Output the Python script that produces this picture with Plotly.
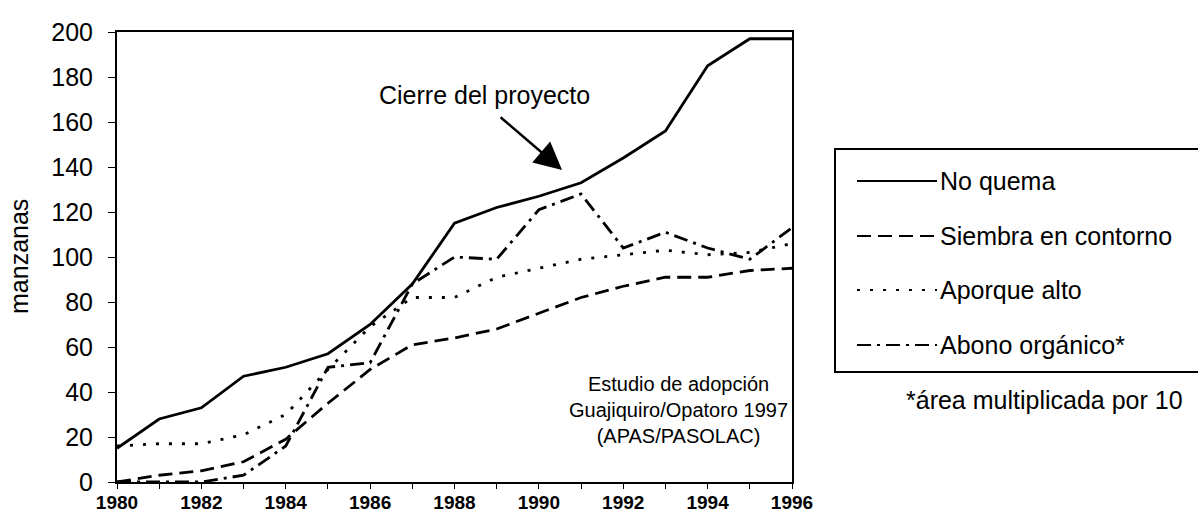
import plotly.graph_objects as go

# Adoption of soil-conservation practices, Guajiquiro/Opatoro (manzanas)
years = list(range(1980, 1997))
no_quema = [15, 28, 33, 47, 51, 57, 70, 88, 115, 122, 127, 133, 144, 156, 185, 197, 197]
siembra_contorno = [0, 3, 5, 9, 19, 35, 50, 61, 64, 68, 75, 82, 87, 91, 91, 94, 95]
aporque_alto = [16, 17, 17, 21, 30, 50, 69, 82, 82, 91, 95, 99, 101, 103, 101, 102, 106]
abono_organico = [0, 0, 0, 3, 16, 51, 53, 88, 100, 99, 121, 128, 104, 111, 104, 99, 113]

series_names = ["No quema", "Siembra en contorno", "Aporque alto", "Abono orgánico*"]
series_values = [no_quema, siembra_contorno, aporque_alto, abono_organico]
dash_styles = ["solid", "14px,7px", "3px,10px", "14px,6px,3px,6px"]

FONT = "Liberation Sans, Arial, sans-serif"
LINE_W = 2.8

fig = go.Figure()
for name, vals, dash in zip(series_names, series_values, dash_styles):
    fig.add_trace(go.Scatter(
        x=years, y=vals, name=name, mode="lines",
        line=dict(color="black", width=LINE_W, dash=dash),
        showlegend=False, cliponaxis=False,
    ))

# plot-area geometry in pixels (used to place the hand-drawn legend)
L, R, T, B = 117, 792, 32, 482
W, H = R - L, B - T


def px(xp):
    return (xp - L) / W


def py(yp):
    return (B - yp) / H


shapes = [dict(type="rect", xref="paper", yref="paper",
               x0=px(835), x1=px(1205), y0=py(372), y1=py(149),
               line=dict(color="black", width=2))]
annotations = []
legend_rows = [181, 236, 290, 345]
for name, dash, yr in zip(series_names, dash_styles, legend_rows):
    shapes.append(dict(type="line", xref="paper", yref="paper",
                       x0=px(857), x1=px(937), y0=py(yr), y1=py(yr),
                       line=dict(color="black", width=2, dash=dash)))
    annotations.append(dict(xref="paper", yref="paper", x=px(938), y=py(yr),
                            text=name, showarrow=False, xanchor="left", yanchor="middle",
                            font=dict(family=FONT, size=25, color="black")))

annotations += [
    dict(xref="paper", yref="paper", x=px(1044), y=py(400),
         text="*área multiplicada por 10", showarrow=False,
         xanchor="center", yanchor="middle",
         font=dict(family=FONT, size=25, color="black")),
    dict(xref="paper", yref="paper", x=px(19), y=0.5, text="manzanas",
         textangle=-90, showarrow=False, xanchor="center", yanchor="middle",
         font=dict(family=FONT, size=25, color="black")),
    dict(x=1988.72, y=172, text="Cierre del proyecto", showarrow=False,
         xanchor="center", yanchor="middle",
         font=dict(family=FONT, size=25, color="black")),
    dict(x=1990.55, y=138.7, ax=-63, ay=-54, text="", showarrow=True,
         arrowhead=2, arrowsize=2.2, arrowwidth=2.5, arrowcolor="black"),
    dict(x=1993.32, y=32, text="Estudio de adopción<br>Guajiquiro/Opatoro 1997<br>(APAS/PASOLAC)",
         showarrow=False, xanchor="center", yanchor="middle", align="center",
         font=dict(family=FONT, size=20, color="black")),
]

fig.update_layout(
    width=1198, height=517,
    margin=dict(l=L, r=1198 - R, t=T, b=517 - B, autoexpand=False),
    paper_bgcolor="white", plot_bgcolor="white",
    shapes=shapes, annotations=annotations,
    xaxis=dict(range=[1980, 1996], tickmode="linear", tick0=1980, dtick=2,
               automargin=False, showgrid=False, zeroline=False,
               showline=True, mirror=True, linecolor="black", linewidth=2,
               ticks="outside", ticklen=5, tickwidth=1, tickcolor="black",
               ticklabelstandoff=-3,
               minor=dict(dtick=1, ticks="outside", ticklen=5, tickwidth=1, tickcolor="black"),
               tickfont=dict(family=FONT, size=19, color="black", weight="bold")),
    yaxis=dict(range=[0, 200], tickmode="linear", tick0=0, dtick=20,
               automargin=False, showgrid=False, zeroline=False,
               showline=True, mirror=True, linecolor="black", linewidth=2,
               ticks="outside", ticklen=7, tickwidth=1, tickcolor="black",
               ticklabelstandoff=10,
               tickfont=dict(family=FONT, size=25, color="black")),
)

fig.write_html("out.html")
